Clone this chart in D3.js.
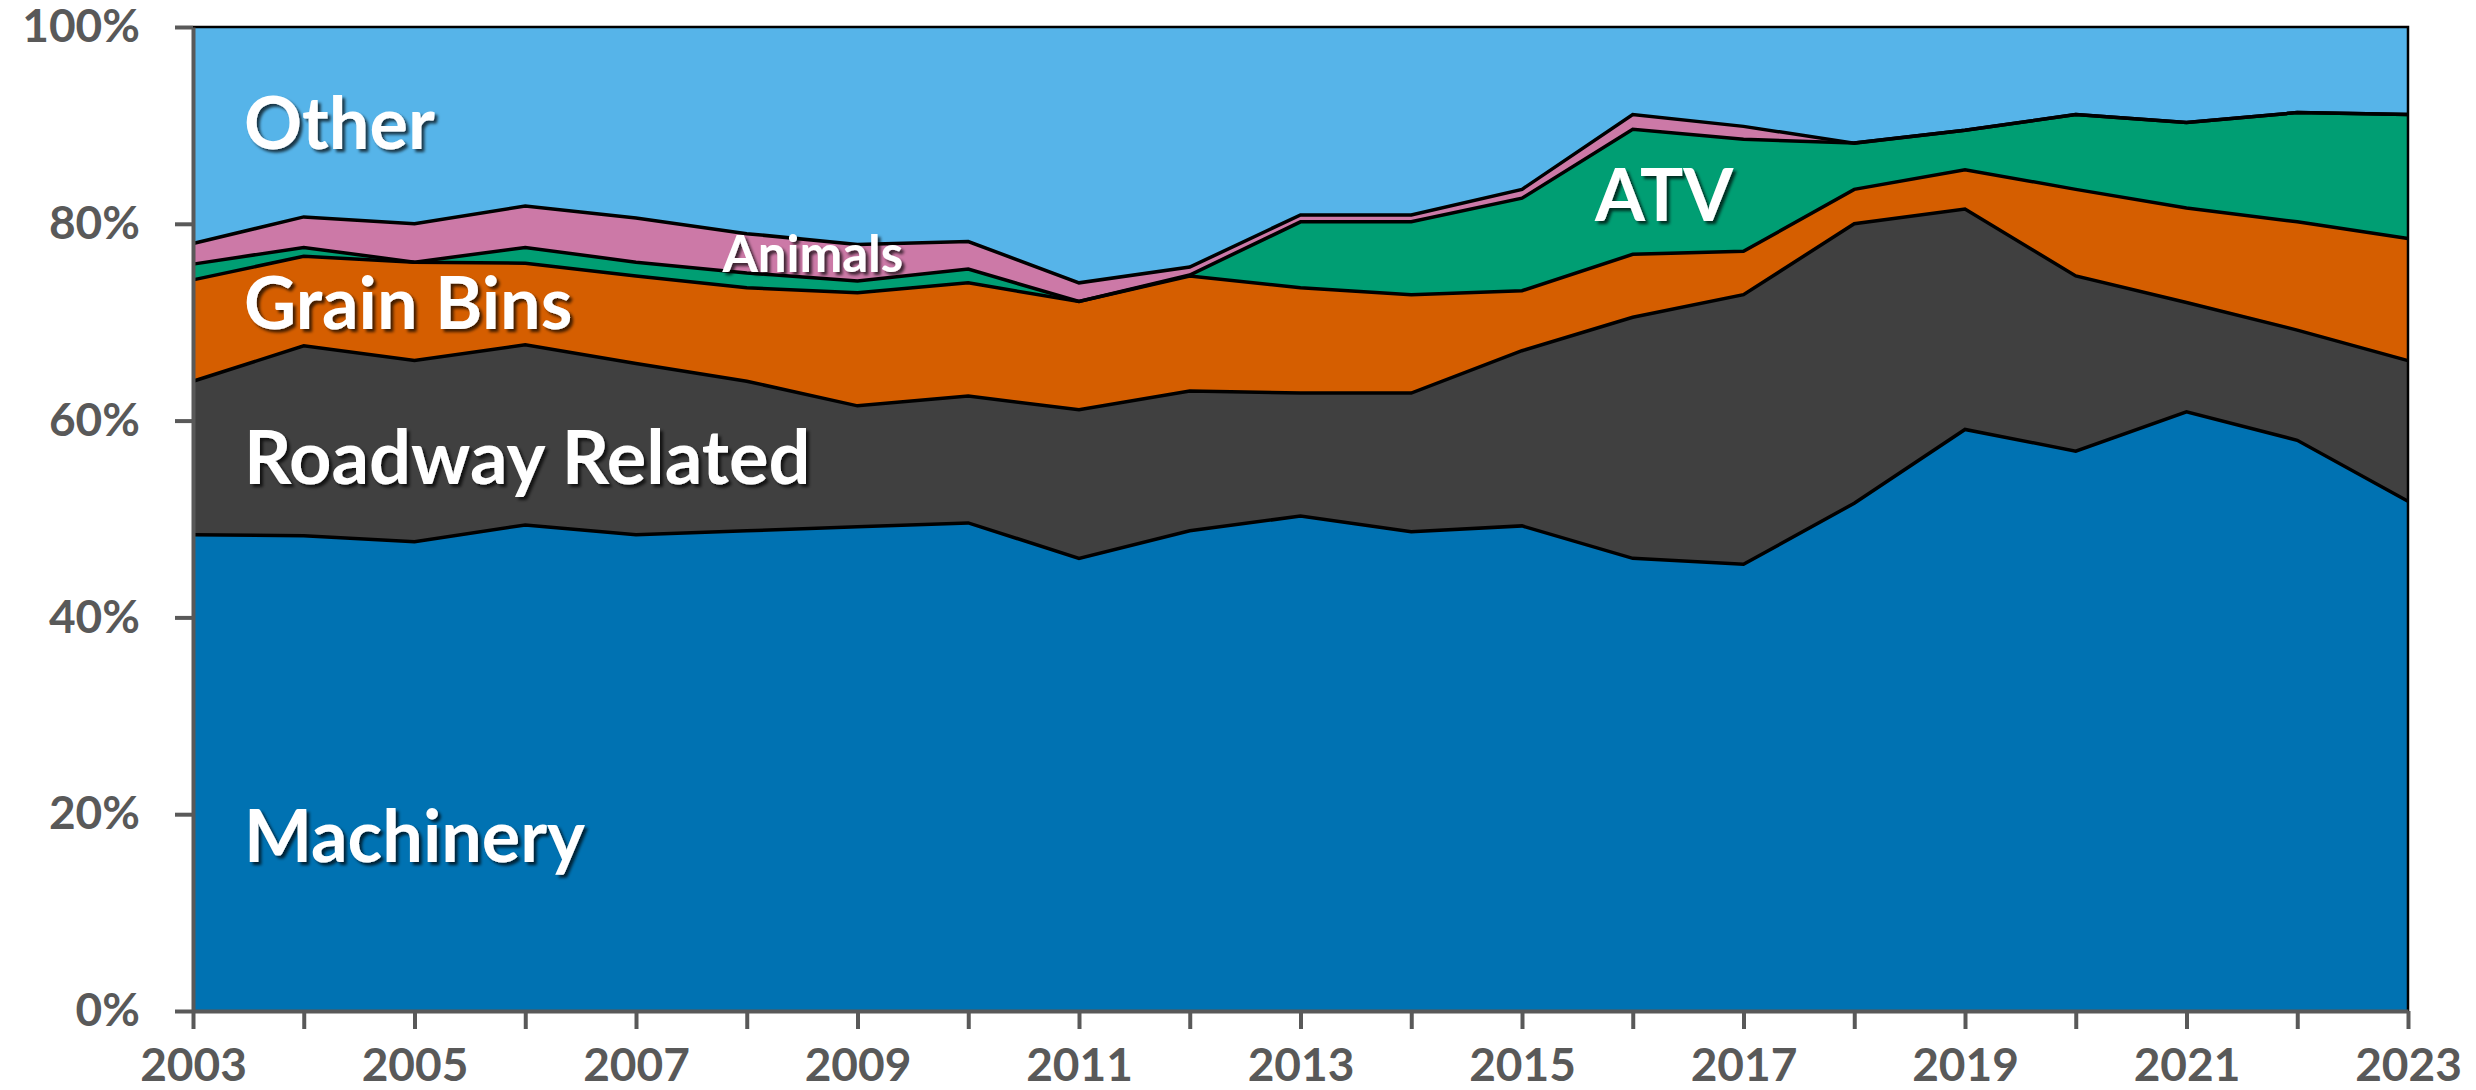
<!DOCTYPE html>
<html>
<head>
<meta charset="utf-8">
<script src="https://cdn.jsdelivr.net/npm/d3@7.9.0/dist/d3.min.js"></script>
<style>
  body { margin: 0; background: #fff; }
  svg { display: block; font-family: Lato, "Open Sans", sans-serif; }
  .axis text { font-family: Lato, "Open Sans", sans-serif; font-size: 46px; font-weight: 700; fill: #595959; }
  .axis line, .axis path { stroke: #595959; stroke-width: 4; }
  .label { fill: #fff; font-weight: 700; }
</style>
</head>
<body>
<svg id="chart" width="2476" height="1090"></svg>
<script>
// share of fatalities by cause, percent
const years = d3.range(2003, 2024);
const machinery = [48.4, 48.3, 47.7, 49.4, 48.4, 48.8, 49.2, 49.6, 46.0, 48.8, 50.3, 48.7, 49.3, 46.0, 45.4, 51.6, 59.1, 56.9, 60.9, 58.0, 51.8];
const roadway   = [15.6, 19.3, 18.4, 18.3, 17.4, 15.2, 12.3, 12.9, 15.1, 14.2, 12.5, 14.1, 17.8, 24.5, 27.4, 28.4, 22.4, 17.8, 11.1, 11.2, 14.3];
const grainBins = [10.3,  9.1, 10.0,  8.3,  8.9,  9.5, 11.5, 11.5, 11.0, 11.7, 10.7, 10.0,  6.1,  6.4,  4.4,  3.5,  4.0,  8.8,  9.6, 11.0, 12.4];
const atv       = [ 1.6,  0.9,  0.0,  1.6,  1.4,  1.5,  1.2,  1.4,  0.0,  0.1,  6.7,  7.4,  9.4, 12.7, 11.4,  4.7,  4.0,  7.6,  8.7, 11.1, 12.6];
const animals   = [ 2.1,  3.1,  3.9,  4.2,  4.5,  4.0,  3.7,  2.8,  1.9,  0.8,  0.7,  0.7,  0.9,  1.5,  1.3,  0.0,  0.0,  0.0,  0.0,  0.0,  0.0];
const other     = [22.0, 19.3, 20.0, 18.2, 19.4, 21.0, 22.1, 21.8, 26.0, 24.4, 19.1, 19.1, 16.5,  8.9, 10.1, 11.8, 10.5,  8.9,  9.7,  8.7,  8.9];

const keys = ['Machinery', 'Roadway Related', 'Grain Bins', 'ATV', 'Animals', 'Other'];
const seriesValues = [machinery, roadway, grainBins, atv, animals, other];
const colors = ['#0072B2', '#404040', '#D55E00', '#009E73', '#CC79A7', '#56B4E9'];
const yTicks = [0, 20, 40, 60, 80, 100];

const rows = years.map((yr, i) => {
  const row = { year: yr };
  keys.forEach((k, j) => row[k] = seriesValues[j][i]);
  return row;
});

const svg = d3.select('#chart');
const margin = { left: 193, right: 2408, top: 27, bottom: 1011 };

const x = d3.scaleLinear().domain([2003, 2023]).range([margin.left, margin.right]);
const y = d3.scaleLinear().domain([0, 100]).range([margin.bottom, margin.top]);

const stacked = d3.stack().keys(keys)(rows);

const area = d3.area()
  .x(d => x(d.data.year))
  .y0(d => y(d[0]))
  .y1(d => y(d[1]));

const topLine = d3.line()
  .x(d => x(d.data.year))
  .y(d => y(d[1]));

svg.append('g').selectAll('path')
  .data(stacked)
  .join('path')
  .attr('d', area)
  .attr('fill', (d, i) => colors[i]);

// boundary lines between layers
svg.append('g').selectAll('path')
  .data(stacked.slice(0, -1))
  .join('path')
  .attr('d', topLine)
  .attr('fill', 'none')
  .attr('stroke', '#000')
  .attr('stroke-width', 3.5)
  .attr('stroke-linejoin', 'miter');

// frame on top and right
svg.append('path')
  .attr('d', `M${margin.left},${y(100)}H${x(2023)}V${margin.bottom}`)
  .attr('fill', 'none')
  .attr('stroke', '#000')
  .attr('stroke-width', 2.5);

const yAxis = d3.axisLeft(y)
  .tickValues(yTicks)
  .tickFormat(d => d + '%')
  .tickSize(18)
  .tickSizeOuter(0)
  .tickPadding(35);

svg.append('g')
  .attr('class', 'axis')
  .attr('transform', `translate(${margin.left},0)`)
  .call(yAxis);

const xAxis = d3.axisBottom(x)
  .tickValues(years)
  .tickFormat(d => (d % 2 === 1 ? d : ''))
  .tickSize(18)
  .tickSizeOuter(0)
  .tickPadding(19);

svg.append('g')
  .attr('class', 'axis')
  .attr('transform', `translate(0,${margin.bottom})`)
  .call(xAxis);

// drop shadow for the white labels
const defs = svg.append('defs');
defs.append('filter')
  .attr('id', 'shadow')
  .attr('x', '-10%').attr('y', '-20%')
  .attr('width', '130%').attr('height', '150%')
  .append('feDropShadow')
  .attr('dx', 3).attr('dy', 3)
  .attr('stdDeviation', 1.5)
  .attr('flood-color', '#000')
  .attr('flood-opacity', 0.7);

const labels = [
  { text: 'Other', year: 2003.46, value: 87.6, size: 72 },
  { text: 'Grain Bins', year: 2003.46, value: 69.3, size: 72 },
  { text: 'Roadway Related', year: 2003.46, value: 53.6, size: 74 },
  { text: 'Machinery', year: 2003.46, value: 15.1, size: 72 },
  { text: 'Animals', year: 2007.78, value: 75.1, size: 51 },
  { text: 'ATV', year: 2015.66, value: 80.3, size: 72 }
];

svg.append('g').selectAll('text')
  .data(labels)
  .join('text')
  .attr('class', 'label')
  .attr('x', d => x(d.year))
  .attr('y', d => y(d.value))
  .attr('font-size', d => d.size)
  .attr('filter', 'url(#shadow)')
  .text(d => d.text);
</script>
</body>
</html>
